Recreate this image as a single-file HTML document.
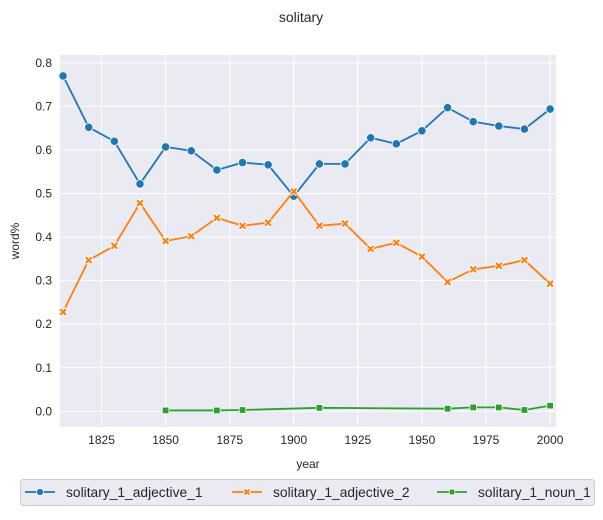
<!DOCTYPE html>
<html><head><meta charset="utf-8"><style>
body{margin:0;background:#fff;font-family:"Liberation Sans",sans-serif}
svg text{font-family:"Liberation Sans",sans-serif;fill:#262626}
</style></head><body>
<svg id="c" width="603" height="515">
<text x="301" y="22" font-size="14" text-anchor="middle">solitary</text>
</svg>
<script>
const years=[1810,1820,1830,1840,1850,1860,1870,1880,1890,1900,1910,1920,1930,1940,1950,1960,1970,1980,1990,2000];
const adj1=[0.77,0.652,0.62,0.522,0.607,0.598,0.554,0.571,0.566,0.494,0.568,0.568,0.628,0.614,0.644,0.697,0.665,0.655,0.648,0.694];
const adj2=[0.228,0.347,0.38,0.478,0.391,0.402,0.444,0.426,0.433,0.505,0.426,0.431,0.373,0.387,0.355,0.297,0.326,0.334,0.347,0.293];
const nounYears=[1850,1870,1880,1910,1960,1970,1980,1990,2000];
const noun1=[0.002,0.002,0.003,0.008,0.006,0.009,0.009,0.003,0.013];
const xTicks=[1825,1850,1875,1900,1925,1950,1975,2000];
const yTicks=[0,0.1,0.2,0.3,0.4,0.5,0.6,0.7,0.8];
const L=60,R=556,T=55,B=427;
const x0=1808.8,x1=2002.3,y0=-0.036,y1=0.818;
const X=v=>L+(v-x0)/(x1-x0)*(R-L);
const Y=v=>B-(v-y0)/(y1-y0)*(B-T);
const svg=document.getElementById('c');const NS='http://www.w3.org/2000/svg';
function el(t,a,p){const e=document.createElementNS(NS,t);for(const k in a)e.setAttribute(k,a[k]);(p||svg).appendChild(e);return e;}
const bg=el('rect',{x:L,y:T,width:R-L,height:B-T,fill:'#eaeaf2'});


xTicks.forEach(t=>{const g=el('line',{x1:X(t),x2:X(t),y1:T,y2:B,stroke:'#fff','stroke-width':1});


const tx=el('text',{x:X(t),y:B+17,'font-size':12,'text-anchor':'middle'});tx.textContent=t;

});
yTicks.forEach(t=>{const g=el('line',{x1:L,x2:R,y1:Y(t),y2:Y(t),stroke:'#fff','stroke-width':1});


const tx=el('text',{x:L-8,y:Y(t)+4,'font-size':12,'text-anchor':'end'});tx.textContent=t.toFixed(1);

});
const xl=el('text',{x:(L+R)/2,y:468,'font-size':12,'text-anchor':'middle'});xl.textContent='year';


const yl=el('text',{x:19,y:241,'font-size':12,'text-anchor':'middle',transform:'rotate(-90 19 241)'});yl.textContent='word%';


function marker(type,cx,cy,col,p,sc){
 sc=sc||1;
 if(type==='o')return el('circle',{cx,cy,r:4.2*sc,fill:col,stroke:'#fff','stroke-width':0.8},p);
 if(type==='s')return el('rect',{x:cx-3.3*sc,y:cy-3.3*sc,width:6.6*sc,height:6.6*sc,fill:col,stroke:'#fff','stroke-width':0.8},p);
 const g=el('g',{},p);const a=3.3*sc,b=2.9*sc;
 el('path',{d:`M${cx-a},${cy-a}L${cx+a},${cy+a}M${cx-a},${cy+a}L${cx+a},${cy-a}`,stroke:'#fff','stroke-width':4},g);
 el('path',{d:`M${cx-b},${cy-b}L${cx+b},${cy+b}M${cx-b},${cy+b}L${cx+b},${cy-b}`,stroke:col,'stroke-width':2.1},g);return g;}
function series(xs,ys,col,m,name){
 const g=el('g',{});
 
 
 el('polyline',{points:xs.map((v,i)=>X(v)+','+Y(ys[i])).join(' '),fill:'none',stroke:col,'stroke-width':1.8},g);
 xs.forEach((v,i)=>{const mk=marker(m,X(v),Y(ys[i]),col,g);
 
 });}
series(years,adj1,'#1f77b4','o','series-adjective-1');
series(years,adj2,'#ff7f0e','x','series-adjective-2');
series(nounYears,noun1,'#2ca02c','s','series-noun-1');
const lg=el('g',{});


el('rect',{x:20.5,y:479.5,width:574,height:26,rx:3,fill:'#eaeaf2',stroke:'#cccccc'},lg);
[['solitary_1_adjective_1','#1f77b4','o',25],['solitary_1_adjective_2','#ff7f0e','x',232],['solitary_1_noun_1','#2ca02c','s',437]].forEach(([n,c,m,x])=>{
 const e=el('g',{},lg);
 
 
 el('line',{x1:x,x2:x+30,y1:492,y2:492,stroke:c,'stroke-width':1.8},e);
 marker(m,x+15,492,c,e,0.85);
 const t=el('text',{x:x+41,y:497,'font-size':13.8},e);t.textContent=n;});
</script>
</body></html>
